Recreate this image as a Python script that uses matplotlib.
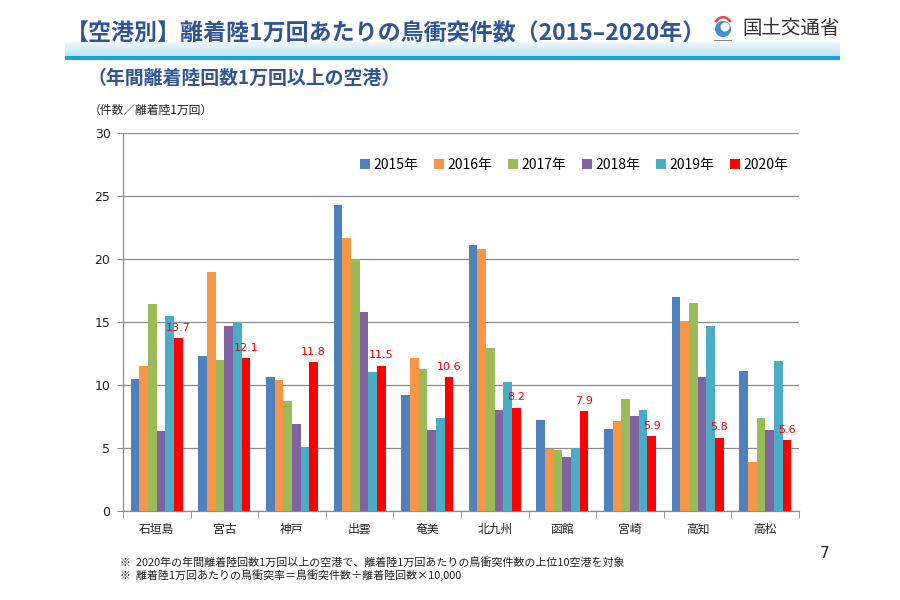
import matplotlib
matplotlib.use("Agg")
import matplotlib.pyplot as plt
import numpy as np
from matplotlib.patches import Patch, Circle, Wedge, Rectangle
from matplotlib.colors import LinearSegmentedColormap

plt.rcParams['font.family'] = ['Noto Sans CJK JP', 'DejaVu Sans']

airports = ["石垣島", "宮古", "神戸", "出雲", "奄美", "北九州", "函館", "宮崎", "高知", "高松"]
years = ["2015年", "2016年", "2017年", "2018年", "2019年", "2020年"]
v2015 = [10.5, 12.3, 10.6, 24.3, 9.2, 21.1, 7.2, 6.5, 17.0, 11.1]
v2016 = [11.5, 19.0, 10.4, 21.7, 12.1, 20.8, 4.9, 7.1, 15.1, 3.9]
v2017 = [16.4, 12.0, 8.7, 20.0, 11.3, 12.9, 4.8, 8.9, 16.5, 7.4]
v2018 = [6.3, 14.7, 6.9, 15.8, 6.4, 8.0, 4.3, 7.5, 10.6, 6.4]
v2019 = [15.5, 15.0, 5.1, 11.0, 7.4, 10.2, 5.0, 8.0, 14.7, 11.9]
v2020 = [13.7, 12.1, 11.8, 11.5, 10.6, 8.2, 7.9, 5.9, 5.8, 5.6]
series = [v2015, v2016, v2017, v2018, v2019, v2020]
colors = ["#4F81BD", "#F79646", "#9BBB59", "#8064A2", "#4BACC6", "#FF0000"]
yticks = [0, 5, 10, 15, 20, 25, 30]

title = "【空港別】離着陸1万回あたりの鳥衝突件数（2015–2020年）"
subtitle = "（年間離着陸回数1万回以上の空港）"
unit_label = "（件数／離着陸1万回）"
ministry = "国土交通省"
notes = ["※  2020年の年間離着陸回数1万回以上の空港で、離着陸1万回あたりの鳥衝突件数の上位10空港を対象",
         "※  離着陸1万回あたりの鳥衝突率＝鳥衝突件数÷離着陸回数×10,000"]
page_no = "7"

W, H = 900, 600
fig = plt.figure(figsize=(9, 6), dpi=100)
fig.patch.set_facecolor("white")

def fx(px):
    return px / W

def fy(py):
    return 1 - py / H

# Header band (gradient) and line
band_ax = fig.add_axes([fx(65), fy(56), fx(840 - 65), (56 - 42) / H])
grad = np.linspace(0, 1, 50).reshape(-1, 1)
cmap = LinearSegmentedColormap.from_list("b", ["#EEF7FC", "#D7EEF8", "#BFE4F4"])
band_ax.imshow(grad, aspect="auto", cmap=cmap, extent=[0, 1, 0, 1], origin="upper")
band_ax.set_axis_off()
fig.add_artist(Rectangle((fx(65), fy(59.5)), fx(840 - 65), 3.5 / H, transform=fig.transFigure,
                         facecolor="#17A2D3", edgecolor="none"))

fig.text(fx(66), fy(34), title, fontsize=16.55, fontweight="bold", color="#2F5597",
         ha="left", va="center")
# logo
fig.add_artist(Wedge((723, 600 - 25), 9, 20, 160, width=2.5, transform=None, facecolor="#E8453C", edgecolor="none"))
fig.add_artist(Circle((723, 600 - 29), 8, transform=None, facecolor="#3B8FD6", edgecolor="none"))
fig.add_artist(Circle((725, 600 - 27), 4.5, transform=None, facecolor="white", edgecolor="none"))
fig.add_artist(Rectangle((714, 600 - 41), 18, 1.5, transform=None, facecolor="#888888", edgecolor="none"))
fig.text(fx(742), fy(29), ministry, fontsize=14, color="#333333", ha="left", va="center")

fig.text(fx(87), fy(78), subtitle, fontsize=13.6, fontweight="bold", color="#2F5597",
         ha="left", va="center")
fig.text(fx(89), fy(110), unit_label, fontsize=8.5, color="#222222", ha="left", va="center")

# Chart
ax = fig.add_axes([fx(123), fy(510.7), fx(799 - 123), (510.7 - 133.3) / H])
n = len(airports)
x = np.arange(n)
bw = 0.128
for i, (vals, c, yr) in enumerate(zip(series, colors, years)):
    ax.bar(x + (i - 2.5) * bw, vals, width=bw, color=c, edgecolor="none", label=yr, zorder=3)

for xi, v in zip(x, v2020):
    ax.annotate(f"{v:.1f}", (xi + 2.5 * bw, v), xytext=(0, 4), textcoords="offset points",
                ha="center", va="bottom", fontsize=8, color="#FF0000", zorder=5,
                family=['DejaVu Sans'])

ax.set_xlim(-0.5, n - 0.5)
ax.set_ylim(0, 30)
ax.set_yticks(yticks)
ax.set_yticklabels([str(t) for t in yticks], fontsize=9, color="#222222", family=['DejaVu Sans'])
ax.yaxis.grid(True, color="#8C8C8C", linewidth=0.9, zorder=0)
ax.set_axisbelow(True)
ax.set_xticks(x)
ax.set_xticklabels(airports, fontsize=8.5, color="#222222")
ax.tick_params(axis="x", which="major", length=0, pad=9)
ax.set_xticks(np.arange(-0.5, n, 1.0), minor=True)
ax.tick_params(axis="x", which="minor", length=5, color="#8C8C8C", direction="out")
ax.tick_params(axis="y", length=4, color="#8C8C8C", direction="out", pad=5)
for s in ["top", "right"]:
    ax.spines[s].set_visible(False)
for s in ["left", "bottom"]:
    ax.spines[s].set_color("#8C8C8C")
    ax.spines[s].set_linewidth(0.9)

handles = [Patch(facecolor=c, edgecolor="none") for c in colors]
leg = fig.legend(handles, years, loc="center", bbox_to_anchor=(fx(574), fy(165)), ncol=6,
                 frameon=False, fontsize=10, handlelength=0.75, handleheight=0.75,
                 handletextpad=0.25, columnspacing=1.1, borderaxespad=0)

fig.text(fx(120), fy(563), notes[0], fontsize=7.9, color="#222222", ha="left", va="center")
fig.text(fx(120), fy(575), notes[1], fontsize=7.9, color="#222222", ha="left", va="center")
fig.text(fx(825), fy(553), page_no, fontsize=11, color="#222222", ha="center", va="center",
         family=['DejaVu Sans'])

fig.savefig("out.png", dpi=100, facecolor="white")
